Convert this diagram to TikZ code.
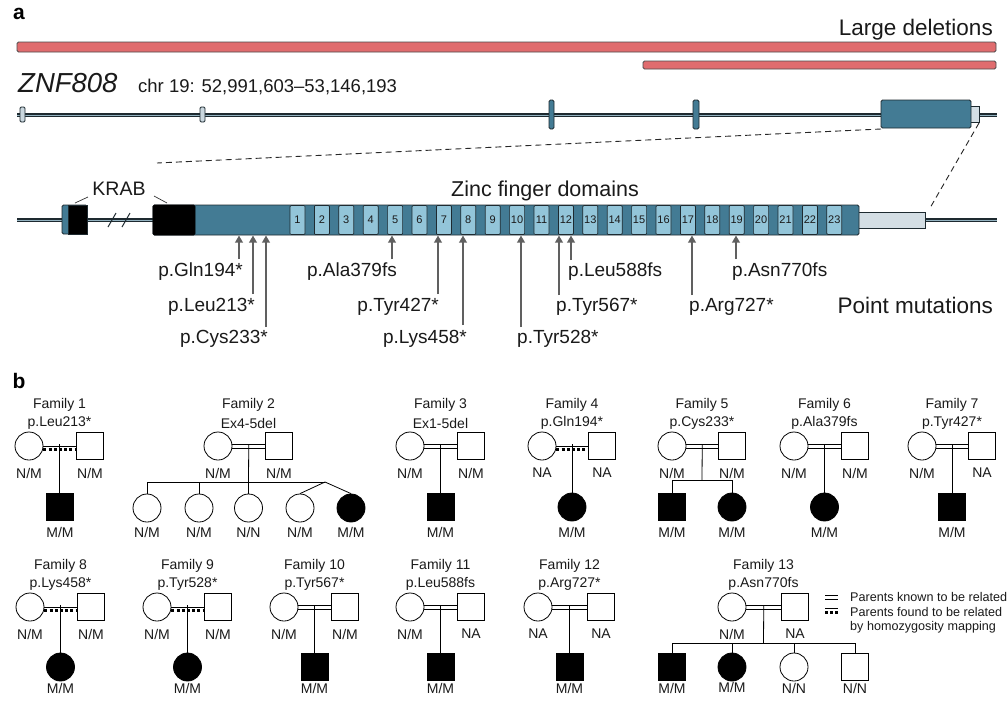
\documentclass[tikz,border=0pt]{standalone}
\usepackage{fontspec}
\setmainfont{Liberation Sans}
\usetikzlibrary{arrows.meta,calc}
\definecolor{delred}{HTML}{E06C6E}
\definecolor{teal1}{HTML}{437B94}
\definecolor{zfc}{HTML}{93C5D9}
\definecolor{utrc}{HTML}{D4DEE4}
\definecolor{exlight}{HTML}{C9D6DE}
\definecolor{edge}{HTML}{1E2A30}
\definecolor{arrc}{HTML}{606060}
\definecolor{txt}{HTML}{1A1A1A}
\newcommand{\fs}[1]{\fontsize{#1}{#1}\selectfont}
\newcommand{\reldbl}[2]{%
  \draw[desc] ([yshift=2pt]#1.east) -- ([yshift=2pt]#2.west);
  \draw[desc] ([yshift=-2pt]#1.east) -- ([yshift=-2pt]#2.west);}
\newcommand{\relhom}[2]{%
  \draw[desc] (#1.east) -- (#2.west);
  \draw[line width=3pt, dash pattern=on 3pt off 2.2pt] ([yshift=-3.5pt]#1.east) -- ([yshift=-3.5pt]#2.west);}
\newcommand{\couple}[8]{%
  \node[fem] (F#1f) at (#2,#4) {};
  \node[mal] (F#1m) at (#3,#4) {};
  \node[lab] (F#1t) at ({(#2+#3)/2},#4-41) {Family #1};
  \node[lab] (F#1v) at ({(#2+#3)/2},#4-23) {#5};
  \node[lab] (F#1fl) at (#2,#4+27) {#6};
  \node[lab] (F#1ml) at (#3,#4+27) {#7};
  \csname rel#8\endcsname{F#1f}{F#1m}%
  \coordinate (F#1x) at ($(F#1f.east)!0.5!(F#1m.west)+(0,-2)$);
}
\newcommand{\kid}[6]{%
  \node[#2] (#1) at (#3,#4) {};
  \node[lab] (#1l) at (#3,#4+#6) {#5};
}
\begin{document}
\begin{tikzpicture}[x=1pt,y=-1pt,
  lab/.style={font=\fs{14}, inner sep=0pt, text=txt},
  fem/.style={circle, draw=black, minimum size=28pt, inner sep=0pt, line width=0.8pt, fill=white},
  mal/.style={rectangle, draw=black, minimum size=27pt, inner sep=0pt, line width=0.8pt, fill=white},
  aff/.style={fill=black},
  desc/.style={line width=0.8pt, draw=black},
  mut/.style={font=\fs{19}, inner sep=0pt, text=txt},
  mutarr/.style={draw=arrc, line width=2.4pt, -{Triangle[length=7pt,width=7.5pt]}},
  delbar/.style={fill=delred, draw=black!70, line width=0.8pt, rounded corners=1.5pt},
  exon/.style={fill=teal1, draw=edge, line width=0.8pt, rounded corners=1.5pt},
  lexon/.style={fill=exlight, draw=edge, line width=0.8pt, rounded corners=1.2pt},
  zfbox/.style={draw=edge, fill=zfc, minimum width=15pt, minimum height=29pt, inner sep=0pt, font=\fs{11}, text=txt, rounded corners=1pt, line width=0.7pt},
  zoomline/.style={draw=black!85, line width=0.9pt, dash pattern=on 6pt off 4pt},
  gline/.style={draw=edge, line width=3.2pt},
  glinein/.style={draw=exlight!60!teal1, line width=0.9pt}
]
\useasboundingbox (0,0) rectangle (1007,705);
\fill[white] (0,0) rectangle (1007,705);

% ---------- panel a ----------
\node[font=\bfseries\fs{21}, inner sep=0pt, anchor=base] (pa) at (19,19) {a};
\node[font=\fs{22.5}, inner sep=0pt, anchor=base east, text=txt] (ldel) at (993,35) {Large deletions};
\draw[delbar] (17,42) rectangle (996,52);
\draw[delbar] (643,61) rectangle (996,69);
\node[font=\itshape\fs{27.5}, inner sep=0pt, anchor=base west, text=txt] (gname) at (18,92) {ZNF808};
\node[font=\fs{18.5}, inner sep=0pt, anchor=base west, text=txt] (chr) at (138,92) {chr 19: 52,991,603--53,146,193};

% gene line
\draw[gline] (17,115) -- (997,115);
\draw[glinein] (17,115) -- (997,115);
\draw[lexon] (20,107) rectangle (25,122);
\draw[lexon] (200,107) rectangle (205,122);
\draw[exon] (549,100) rectangle (554,129);
\draw[exon] (693,100) rectangle (699,129);
\draw[fill=utrc, draw=edge, line width=0.8pt] (970,106) rectangle (979,122);
\draw[exon] (881,100) rectangle (971,128);

% zoom lines
\draw[zoomline] (881,129) -- (157,163);
\draw[zoomline] (979,123) -- (930,208);

% domain line
\draw[gline] (17,220) -- (997,220);
\draw[glinein] (17,220) -- (997,220);
\draw[edge, line width=1pt] (108,227) -- (116,213);
\draw[edge, line width=1pt] (122,227) -- (130,213);
% first KRAB piece
\draw[exon] (62,205) rectangle (87,234);
\draw[fill=black, draw=edge, line width=0.8pt] (68,205) rectangle (87,234);
% UTR
\draw[fill=utrc, draw=edge, line width=0.8pt] (855,212) rectangle (925,228);
% main exon
\draw[exon] (153,205) rectangle (859,235);
\draw[fill=black, draw=black, line width=0.8pt, rounded corners=1.5pt] (153,205) rectangle (195,235);
\foreach \i in {1,...,23} {
  \pgfmathsetmacro{\xc}{290+(\i-1)*24.4+7.5}
  \node[zfbox] (zf\i) at (\xc,220) {\i};
}
\node[font=\fs{19.5}, inner sep=0pt, anchor=base, text=txt] (krab) at (119,195) {KRAB};
\draw[black!80, line width=0.7pt] (75,203) -- (88,197);
\draw[black!80, line width=0.7pt] (154,196) -- (167,203);
\node[font=\fs{21.5}, inner sep=0pt, anchor=base, text=txt] (zfd) at (545,196) {Zinc finger domains};

% mutations
\node[mut, anchor=base east] (m1) at (243,276) {p.Gln194*};
\node[mut, anchor=base east] (m2) at (255,311) {p.Leu213*};
\node[mut, anchor=base east] (m3) at (268,343) {p.Cys233*};
\node[mut, anchor=base east] (m4) at (397,276) {p.Ala379fs};
\node[mut, anchor=base east] (m5) at (439,311) {p.Tyr427*};
\node[mut, anchor=base east] (m6) at (467,343) {p.Lys458*};
\node[mut, anchor=base west] (m7) at (517,343) {p.Tyr528*};
\node[mut, anchor=base west] (m8) at (556,311) {p.Tyr567*};
\node[mut, anchor=base west] (m9) at (568,276) {p.Leu588fs};
\node[mut, anchor=base west] (m10) at (689,311) {p.Arg727*};
\node[mut, anchor=base west] (m11) at (732,276) {p.Asn770fs};
\foreach \n/\x/\y in {1/239/259, 2/253/294, 3/266/327, 4/392/259, 5/438/294, 6/463/325, 7/521/327, 8/559/295, 9/571/260, 10/692/295, 11/736/259} {
  \coordinate (t\n) at (\x,\y);
  \coordinate (h\n) at (\x,235.5);
  \draw[mutarr] (t\n) -- (h\n);
}
\node[font=\fs{22.5}, inner sep=0pt, anchor=base east, text=txt] (pmut) at (993,313) {Point mutations};

% ---------- panel b ----------
\node[font=\bfseries\fs{21}, inner sep=0pt, anchor=base] (pb) at (19,388) {b};

% row 1
\couple{1}{29}{90}{446}{p.Leu213*}{N/M}{N/M}{hom}
\kid{F1c}{mal,aff}{60}{507}{M/M}{25}
\draw[desc] (F1x) -- (F1x |- F1c.north);

\couple{2}{218}{279}{446}{Ex4-5del}{N/M}{N/M}{dbl}
\coordinate (F2s) at (248.5,482);
\coordinate (F2sl) at (147,482);
\coordinate (F2tw) at (325,482);
\draw[desc] (F2x) -- (F2s);
\draw[desc] (F2sl) -- (F2tw);
\kid{F2c1}{fem}{147}{508}{N/M}{24}
\kid{F2c2}{fem}{199}{508}{N/M}{24}
\kid{F2c3}{fem}{248.5}{508}{N/N}{24}
\kid{F2c4}{fem}{300}{508}{N/M}{24}
\kid{F2c5}{fem,aff}{351}{508}{M/M}{24}
\draw[desc] (F2sl) -- (F2c1.north);
\draw[desc] (F2c2 |- F2s) -- (F2c2.north);
\draw[desc] (F2s) -- (F2c3.north);
\draw[desc] (F2tw) -- (F2c4.north);
\draw[desc] (F2tw) -- (F2c5.north);

\couple{3}{410}{471}{446}{Ex1-5del}{N/M}{N/M}{dbl}
\kid{F3c}{mal,aff}{440.5}{507}{M/M}{25}
\draw[desc] (F3x) -- (F3x |- F3c.north);

\couple{4}{542}{602}{446}{p.Gln194*}{NA}{NA}{hom}
\kid{F4c}{fem,aff}{572}{507}{M/M}{25}
\draw[desc] (F4x) -- (F4x |- F4c.north);

\couple{5}{672}{732}{446}{p.Cys233*}{N/M}{N/M}{dbl}
\coordinate (F5s) at (702,480);
\draw[desc] (F5x) -- (F5s);
\kid{F5c1}{mal,aff}{672}{507}{M/M}{25}
\kid{F5c2}{fem,aff}{732}{507}{M/M}{25}
\draw[desc] (F5c1.north) -- (F5c1 |- F5s) -- (F5c2 |- F5s) -- (F5c2.north);

\couple{6}{794}{855}{446}{p.Ala379fs}{N/M}{N/M}{dbl}
\kid{F6c}{fem,aff}{824.5}{507}{M/M}{25}
\draw[desc] (F6x) -- (F6x |- F6c.north);

\couple{7}{922}{982}{446}{p.Tyr427*}{N/M}{NA}{dbl}
\kid{F7c}{mal,aff}{952}{507}{M/M}{25}
\draw[desc] (F7x) -- (F7x |- F7c.north);

% row 2
\couple{8}{30}{91}{607}{p.Lys458*}{N/M}{N/M}{hom}
\kid{F8c}{fem,aff}{60.5}{667}{M/M}{21}
\draw[desc] (F8x) -- (F8x |- F8c.north);

\couple{9}{157}{218}{607}{p.Tyr528*}{N/M}{N/M}{hom}
\kid{F9c}{fem,aff}{187.5}{667}{M/M}{21}
\draw[desc] (F9x) -- (F9x |- F9c.north);

\couple{10}{284}{345}{607}{p.Tyr567*}{N/M}{N/M}{dbl}
\kid{F10c}{mal,aff}{314.5}{667}{M/M}{21}
\draw[desc] (F10x) -- (F10x |- F10c.north);

\couple{11}{410}{471}{607}{p.Leu588fs}{N/M}{NA}{dbl}
\kid{F11c}{mal,aff}{440.5}{667}{M/M}{21}
\draw[desc] (F11x) -- (F11x |- F11c.north);

\couple{12}{538}{601}{607}{p.Arg727*}{NA}{NA}{dbl}
\kid{F12c}{mal,aff}{569.5}{667}{M/M}{21}
\draw[desc] (F12x) -- (F12x |- F12c.north);

\couple{13}{732}{795}{607}{p.Asn770fs}{N/M}{NA}{dbl}
\coordinate (F13s) at (763.5,643);
\draw[desc] (F13x) -- (F13s);
\kid{F13c1}{mal,aff}{672}{667}{M/M}{21}
\kid{F13c2}{fem,aff}{732}{667}{M/M}{20}
\kid{F13c3}{fem}{794}{667}{N/N}{21}
\kid{F13c4}{mal}{855}{667}{N/N}{21}
\draw[desc] (F13c1.north) -- (F13c1 |- F13s) -- (F13c4 |- F13s) -- (F13c4.north);
\draw[desc] (F13c2 |- F13s) -- (F13c2.north);
\draw[desc] (F13c3 |- F13s) -- (F13c3.north);

% legend
\draw[desc] (825,595.5) -- (838,595.5);
\draw[desc] (825,599.5) -- (838,599.5);
\draw[desc] (825,608.5) -- (838,608.5);
\draw[line width=3pt, dash pattern=on 3pt off 2pt] (825,612) -- (838,612);
\node[font=\fs{12.6}, inner sep=0pt, anchor=west, text=txt] (lg1) at (850,597) {Parents known to be related};
\node[font=\fs{12.6}, inner sep=0pt, anchor=west, text=txt] (lg2) at (850,612) {Parents found to be related};
\node[font=\fs{12.6}, inner sep=0pt, anchor=west, text=txt] (lg3) at (850,627) {by homozygosity mapping};
\end{tikzpicture}
\end{document}
